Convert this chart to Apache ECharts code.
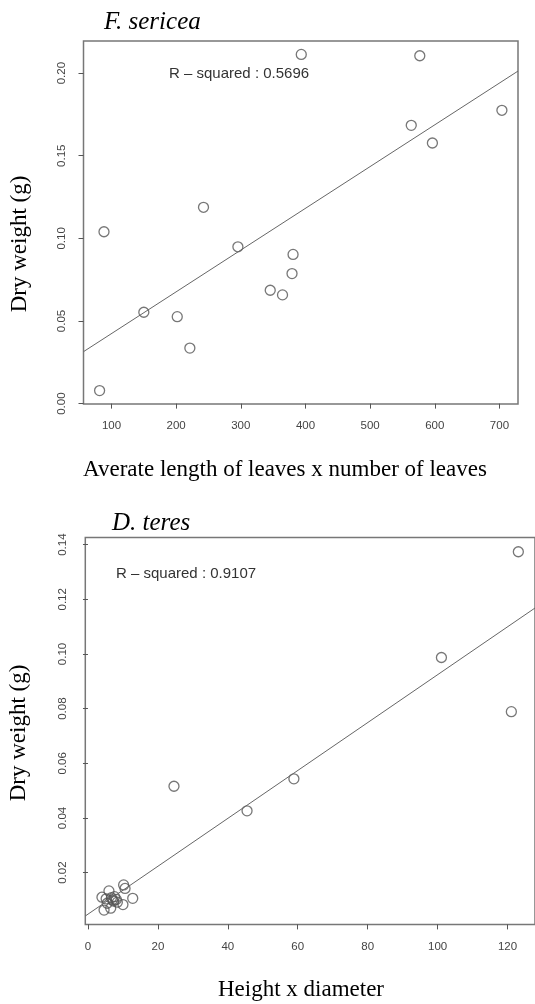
<!DOCTYPE html>
<html>
<head>
<meta charset="utf-8">
<script src="https://cdn.jsdelivr.net/npm/echarts@6/dist/echarts.min.js"></script>
<style>
html,body{margin:0;padding:0;background:#fff;}
#chart{width:535px;height:1004px;}
</style>
</head>
<body>
<div id="chart"></div>
<script>
// ---- Panel 1: F. sericea ----
const topX = [393.5, 576.8, 703.8, 563.6, 596.3, 242.3, 88.4, 295.5, 380.8, 379.2, 345.5, 364.5, 150.0, 201.7, 221.2, 81.6];
const topY = [0.2113, 0.2105, 0.1775, 0.1684, 0.1577, 0.1188, 0.1040, 0.0949, 0.0903, 0.0787, 0.0686, 0.0658, 0.0553, 0.0526, 0.0336, 0.0079];
const topFit = [0.0171, 0.0002527]; // intercept, slope
const topXTicks = [100, 200, 300, 400, 500, 600, 700];
const topYTicks = [0.00, 0.05, 0.10, 0.15, 0.20];
const topR2 = '0.5696';

// ---- Panel 2: D. teres ----
const botX = [10.2, 10.6, 12.8, 10.0, 6.0, 4.0, 7.6, 7.0, 8.1, 7.3, 6.7, 4.6, 6.5, 5.5, 8.4, 5.2, 24.6, 45.5, 58.9, 101.1, 121.1, 123.1];
const botY = [0.0155, 0.0142, 0.0106, 0.0083, 0.0133, 0.0110, 0.0112, 0.0100, 0.0102, 0.0096, 0.0108, 0.0063, 0.0070, 0.0088, 0.0092, 0.0104, 0.0516, 0.0426, 0.0543, 0.0987, 0.0789, 0.1374];
const botFit = [0.0048, 0.000876];
const botXTicks = [0, 20, 40, 60, 80, 100, 120];
const botYTicks = [0.02, 0.04, 0.06, 0.08, 0.10, 0.12, 0.14];
const botR2 = '0.9107';

const titles = ['F. sericea', 'D. teres'];
const xTitles = ['Averate length of leaves x number of leaves', 'Height x diameter'];
const yTitle = 'Dry weight (g)';

function rng(arr) {
  const lo = Math.min(...arr), hi = Math.max(...arr), d = (hi - lo) * 0.04;
  return [lo - d, hi + d];
}
function pairs(xs, ys) { return xs.map((x, i) => [x, ys[i]]); }
function fitLine(fit, r) { return [[r[0], fit[0] + fit[1] * r[0]], [r[1], fit[0] + fit[1] * r[1]]]; }

const tx = rng(topX), ty = rng(topY), bx = rng(botX), by = rng(botY);

const chart = echarts.init(document.getElementById('chart'), null, {renderer: 'canvas'});
const axisCol = '#555';
const lblCol = '#444';
const sans = 'Liberation Sans, Arial, sans-serif';
const serif = 'Liberation Serif, Times New Roman, serif';

function xAxis(idx, r, ticks, dec) {
  return {
    type: 'value', gridIndex: idx, min: r[0], max: r[1],
    splitLine: {show: false},
    axisLine: {show: false},
    axisTick: {show: true, length: 5, inside: false, customValues: ticks, lineStyle: {color: axisCol, width: 1}},
    axisLabel: {show: true, customValues: ticks, margin: 16, color: lblCol, fontFamily: sans, fontSize: 11.5,
      formatter: v => Number(v).toFixed(dec)}
  };
}
function yAxis(idx, r, ticks, dec) {
  return {
    type: 'value', gridIndex: idx, min: r[0], max: r[1],
    splitLine: {show: false},
    axisLine: {show: false},
    axisTick: {show: true, length: 5, inside: false, customValues: ticks, lineStyle: {color: axisCol, width: 1}},
    axisLabel: {show: true, customValues: ticks, margin: 16, rotate: 90, color: lblCol, fontFamily: sans, fontSize: 11.5,
      formatter: v => Number(v).toFixed(dec)}
  };
}
const pointStyle = {color: 'rgba(0,0,0,0)', borderColor: '#555', borderWidth: 1.3};

chart.setOption({
  animation: false,
  grid: [
    {left: 83.5, top: 41, width: 434.5, height: 363, show: true, borderColor: '#777', borderWidth: 1.5, backgroundColor: 'transparent'},
    {left: 85.3, top: 537.4, width: 452.5, height: 387, show: true, borderColor: '#777', borderWidth: 1.5, backgroundColor: 'transparent'}
  ],
  xAxis: [xAxis(0, tx, topXTicks, 0), xAxis(1, bx, botXTicks, 0)],
  yAxis: [yAxis(0, ty, topYTicks, 2), yAxis(1, by, botYTicks, 2)],
  series: [
    {type: 'line', xAxisIndex: 0, yAxisIndex: 0, data: fitLine(topFit, tx), symbol: 'none', lineStyle: {color: '#666', width: 1}, silent: true},
    {type: 'scatter', xAxisIndex: 0, yAxisIndex: 0, data: pairs(topX, topY), symbol: 'circle', symbolSize: 10, itemStyle: pointStyle},
    {type: 'line', xAxisIndex: 1, yAxisIndex: 1, data: fitLine(botFit, bx), symbol: 'none', lineStyle: {color: '#666', width: 1}, silent: true},
    {type: 'scatter', xAxisIndex: 1, yAxisIndex: 1, data: pairs(botX, botY), symbol: 'circle', symbolSize: 10, itemStyle: pointStyle}
  ],
  graphic: [
    {type: 'text', x: 104, y: 22, style: {text: titles[0], font: 'italic 25px ' + serif, fill: '#000', textAlign: 'left', textVerticalAlign: 'middle'}},
    {type: 'text', x: 112, y: 523, style: {text: titles[1], font: 'italic 25px ' + serif, fill: '#000', textAlign: 'left', textVerticalAlign: 'middle'}},
    {type: 'text', x: 169, y: 74, style: {text: 'R \u2013 squared : ' + topR2, font: '15px ' + sans, fill: '#333', textAlign: 'left', textVerticalAlign: 'middle'}},
    {type: 'text', x: 116, y: 574, style: {text: 'R \u2013 squared : ' + botR2, font: '15px ' + sans, fill: '#333', textAlign: 'left', textVerticalAlign: 'middle'}},
    {type: 'text', x: 19.5, y: 244, rotation: Math.PI / 2, style: {text: yTitle, font: '23px ' + serif, fill: '#000', textAlign: 'center', textVerticalAlign: 'middle'}},
    {type: 'text', x: 19, y: 733, rotation: Math.PI / 2, style: {text: yTitle, font: '23px ' + serif, fill: '#000', textAlign: 'center', textVerticalAlign: 'middle'}},
    {type: 'text', x: 285, y: 470, style: {text: xTitles[0], font: '23px ' + serif, fill: '#000', textAlign: 'center', textVerticalAlign: 'middle'}},
    {type: 'text', x: 301, y: 990, style: {text: xTitles[1], font: '23px ' + serif, fill: '#000', textAlign: 'center', textVerticalAlign: 'middle'}}
  ]
});
</script>
</body>
</html>
